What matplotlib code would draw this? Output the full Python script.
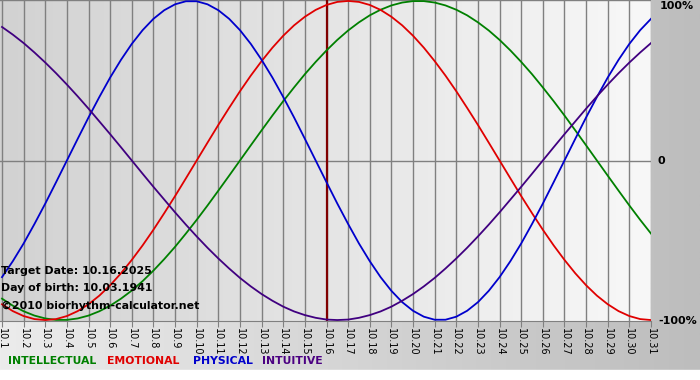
import matplotlib.pyplot as plt
from matplotlib.colors import LinearSegmentedColormap
import numpy as np

# Dias del periodo (octubre 2025)
days = list(range(1, 32))
tickLabels = [f'10.{d}' for d in days]

# Valores (%), cada medio dia desde 10.1 hasta 10.31
physical = [-73.1, -63.1, -52.0, -39.8, -27.0, -13.6, 0, 13.6, 27.0, 39.8,
            52.0, 63.1, 73.1, 81.7, 88.8, 94.2, 97.9, 99.8, 99.8, 97.9,
            94.2, 88.8, 81.7, 73.1, 63.1, 52.0, 39.8, 27.0, 13.6, 0,
            -13.6, -27.0, -39.8, -52.0, -63.1, -73.1, -81.7, -88.8, -94.2, -97.9,
            -99.8, -99.8, -97.9, -94.2, -88.8, -81.7, -73.1, -63.1, -52.0, -39.8,
            -27.0, -13.6, 0, 13.6, 27.0, 39.8, 52.0, 63.1, 73.1, 81.7, 88.8]
emotional = [-90.1, -94.4, -97.5, -99.4, -100, -99.4, -97.5, -94.4, -90.1, -84.7,
             -78.2, -70.7, -62.3, -53.2, -43.4, -33.0, -22.3, -11.2, 0, 11.2,
             22.3, 33.0, 43.4, 53.2, 62.3, 70.7, 78.2, 84.7, 90.1, 94.4,
             97.5, 99.4, 100, 99.4, 97.5, 94.4, 90.1, 84.7, 78.2, 70.7,
             62.3, 53.2, 43.4, 33.0, 22.3, 11.2, 0, -11.2, -22.3, -33.0,
             -43.4, -53.2, -62.3, -70.7, -78.2, -84.7, -90.1, -94.4, -97.5, -99.4, -100]
intellectual = [-86.6, -91.0, -94.5, -97.2, -99.0, -99.9, -99.9, -99.0, -97.2, -94.5,
                -91.0, -86.6, -81.5, -75.6, -69.0, -61.8, -54.1, -45.8, -37.2, -28.2,
                -18.9, -9.5, 0, 9.5, 18.9, 28.2, 37.2, 45.8, 54.1, 61.8,
                69.0, 75.6, 81.5, 86.6, 91.0, 94.5, 97.2, 99.0, 99.9, 99.9,
                99.0, 97.2, 94.5, 91.0, 86.6, 81.5, 75.6, 69.0, 61.8, 54.1,
                45.8, 37.2, 28.2, 18.9, 9.5, 0, -9.5, -18.9, -28.2, -37.2, -45.8]
intuitive = [83.7, 78.9, 73.6, 67.7, 61.4, 54.7, 47.6, 40.2, 32.5, 24.5,
             16.5, 8.3, 0, -8.3, -16.5, -24.5, -32.5, -40.2, -47.6, -54.7,
             -61.4, -67.7, -73.6, -78.9, -83.7, -87.9, -91.6, -94.6, -96.9, -98.6,
             -99.7, -100, -99.7, -98.6, -96.9, -94.6, -91.6, -87.9, -83.7, -78.9,
             -73.6, -67.7, -61.4, -54.7, -47.6, -40.2, -32.5, -24.5, -16.5, -8.3,
             0, 8.3, 16.5, 24.5, 32.5, 40.2, 47.6, 54.7, 61.4, 67.7, 73.6]

targetDay = 16
infoLines = ['Target Date: 10.16.2025', 'Day of birth: 10.03.1941',
             '\u00a92010 biorhythm-calculator.net']

W, H = 700, 380
fig = plt.figure(figsize=(7, 3.8), dpi=100)

# Fondo de la figura con degradado
bg = fig.add_axes([0, 0, 1, 1])
grad = np.linspace(0, 1, 256).reshape(1, -1)
bg.imshow(grad, aspect='auto', extent=[0, 1, 0, 1],
          cmap=LinearSegmentedColormap.from_list('bg', ['#ececec', '#bdbdbd']))
bg.axhspan(0, 10 / H, color='white', zorder=2)
bg.set_xlim(0, 1)
bg.set_ylim(0, 1)
bg.axis('off')

# Area del grafico
left, right = 0, 651
top, bottom = 0, 321
x0 = 1 - 2 / 21.63
ax = fig.add_axes([left / W, 1 - bottom / H, (right - left) / W, (bottom - top) / H])
ax.set_xlim(x0, 31)
ax.set_ylim(-100.6, 100.6)
ax.imshow(grad, aspect='auto', extent=[x0, 31, -100.6, 100.6], zorder=0,
          cmap=LinearSegmentedColormap.from_list('pa', ['#d2d2d2', '#f8f8f8']))

for d in days:
    ax.axvline(d, color='#808080', lw=1.0, zorder=1)
ax.axhline(0, color='#808080', lw=1.0, zorder=1)
ax.axhline(100.6, color='#808080', lw=1.0, zorder=1)
ax.axvline(targetDay, color='#800000', lw=1.6, zorder=2)

xs = np.linspace(1, 31, len(physical))
ax.plot(xs, intellectual, color='#008000', lw=1.3, zorder=3)
ax.plot(xs, emotional, color='#e00000', lw=1.3, zorder=3)
ax.plot(xs, physical, color='#0000cc', lw=1.3, zorder=3)
ax.plot(xs, intuitive, color='#400080', lw=1.3, zorder=3)

for sp in ['top', 'right', 'left']:
    ax.spines[sp].set_visible(False)
ax.spines['bottom'].set_color('#808080')
ax.set_yticks([])
ax.set_xticks(days)
ax.set_xticklabels(tickLabels, rotation=-90, fontsize=7)
ax.tick_params(axis='x', length=4, color='#808080', pad=1)

# Textos informativos
for i, line in enumerate(infoLines):
    ax.text(x0 + 0.05, -69 - i * 11.2, line, fontsize=7.9,
            fontweight='bold', va='center', ha='left', zorder=4)

# Etiquetas de la derecha
fig.text(660 / W, 1 - 1 / H, '100%', fontsize=8, fontweight='bold', va='top', ha='left')
fig.text(657 / W, 1 - 161 / H, '0', fontsize=8, fontweight='bold', va='center', ha='left')
fig.text(658 / W, 1 - 321 / H, '-100%', fontsize=8, fontweight='bold', va='center', ha='left')

# Leyenda
legend = [('INTELLECTUAL', '#008000', 8), ('EMOTIONAL', '#e00000', 107),
          ('PHYSICAL', '#0000cc', 193), ('INTUITIVE', '#4b0082', 262)]
for name, col, xpx in legend:
    fig.text(xpx / W, 1 - 361 / H, name, color=col, fontsize=7.8,
             fontweight='bold', va='center', ha='left')

fig.savefig('out.png', dpi=100)
